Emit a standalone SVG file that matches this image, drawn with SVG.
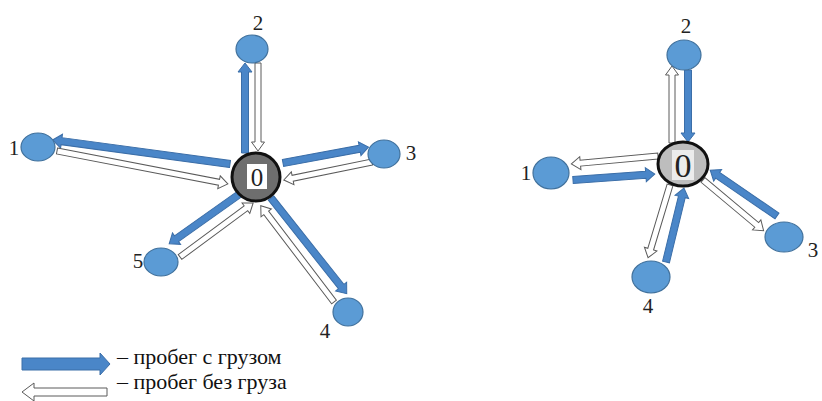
<svg xmlns="http://www.w3.org/2000/svg" width="822" height="401" viewBox="0 0 822 401">
<style>
.b{fill:#4a86c8;stroke:#3b6ea8;stroke-width:1}
.w{fill:#fff;stroke:#5a5a5a;stroke-width:1}
.n{fill:#5b9bd5;stroke:#41719c;stroke-width:1.2}
text{font-family:'Liberation Serif','DejaVu Serif',serif}
.lb{font-size:21px;fill:#222;text-anchor:middle}
.lg{font-size:22px;fill:#111}
</style>
<rect width="822" height="401" fill="#fff"/>
<g id="connectors">
<path class="b" transform="translate(230,164) rotate(-172.28)" d="M0,-3.5H170V-7L179,0L170,7V3.5H0Z"/>
<path class="w" transform="translate(57,151) rotate(10.92)" d="M0,-3H165V-6.5L174,0L165,6.5V3H0Z"/>
<path class="b" transform="translate(245,153) rotate(-90)" d="M0,-3.5H81V-7L90,0L81,7V3.5H0Z"/>
<path class="w" transform="translate(258,63) rotate(90)" d="M0,-3H79V-6.5L88,0L79,6.5V3H0Z"/>
<path class="b" transform="translate(283,163) rotate(-10.54)" d="M0,-3.5H78V-7L87,0L78,7V3.5H0Z"/>
<path class="w" transform="translate(372,162) rotate(168.44)" d="M0,-3H81V-6.5L90,0L81,6.5V3H0Z"/>
<path class="b" transform="translate(241,193) rotate(144.69)" d="M0,-3.5H79V-7L88,0L79,7V3.5H0Z"/>
<path class="w" transform="translate(180,257) rotate(-36.49)" d="M0,-3H82V-6.5L91,0L82,6.5V3H0Z"/>
<path class="b" transform="translate(271,198) rotate(51.63)" d="M0,-3.5H113V-7L122,0L113,7V3.5H0Z"/>
<path class="w" transform="translate(334,302) rotate(-127.25)" d="M0,-3H112V-6.5L121,0L112,6.5V3H0Z"/>
<path class="w" transform="translate(672,143) rotate(-90)" d="M0,-3H68V-6.5L77,0L68,6.5V3H0Z"/>
<path class="b" transform="translate(688,70) rotate(90)" d="M0,-3.5H63V-7L72,0L63,7V3.5H0Z"/>
<path class="w" transform="translate(658,156) rotate(174.75)" d="M0,-3H78V-6.5L87,0L78,6.5V3H0Z"/>
<path class="b" transform="translate(573,180) rotate(-4.18)" d="M0,-3.5H73V-7L82,0L73,7V3.5H0Z"/>
<path class="w" transform="translate(703,180) rotate(39.9)" d="M0,-3H70V-6.5L79,0L70,6.5V3H0Z"/>
<path class="b" transform="translate(777,216) rotate(-145.53)" d="M0,-3.5H72V-7L81,0L72,7V3.5H0Z"/>
<path class="w" transform="translate(670,185) rotate(106.77)" d="M0,-3H67V-6.5L76,0L67,6.5V3H0Z"/>
<path class="b" transform="translate(666,262) rotate(-76.33)" d="M0,-3.5H67V-7L76,0L67,7V3.5H0Z"/>
</g>
<g id="L0">
<circle cx="256" cy="177" r="24" fill="#6e6e6e" stroke="#111" stroke-width="3"/>
<rect x="247" y="164" width="20" height="25" fill="#fff"/>
<text x="257" y="186" class="lb" style="font-size:25px">0</text>
</g>
<g id="L1"><ellipse class="n" cx="38" cy="147" rx="17" ry="14"/><text class="lb" x="14" y="155">1</text></g>
<g id="L2"><ellipse class="n" cx="252" cy="49" rx="16" ry="14"/><text class="lb" x="258" y="30">2</text></g>
<g id="L3"><ellipse class="n" cx="384" cy="154" rx="16" ry="14"/><text class="lb" x="411" y="160">3</text></g>
<g id="L4"><ellipse class="n" cx="348" cy="312" rx="15" ry="14"/><text class="lb" x="325" y="338">4</text></g>
<g id="L5"><ellipse class="n" cx="161" cy="262" rx="17" ry="14"/><text class="lb" x="138" y="268">5</text></g>
<g id="R0">
<ellipse cx="683" cy="164" rx="25" ry="22" fill="#bdbdbd" stroke="#111" stroke-width="3"/>
<rect x="672" y="150" width="22" height="30" fill="#ececec"/>
<text x="683" y="177" class="lb" style="font-size:34px">0</text>
</g>
<g id="R1"><ellipse class="n" cx="551" cy="173" rx="18" ry="16"/><text class="lb" x="526" y="180">1</text></g>
<g id="R2"><ellipse class="n" cx="684" cy="55" rx="17" ry="15"/><text class="lb" x="686" y="33">2</text></g>
<g id="R3"><ellipse class="n" cx="784" cy="237" rx="19" ry="15"/><text class="lb" x="813" y="257">3</text></g>
<g id="R4"><ellipse class="n" cx="651" cy="277" rx="19" ry="16"/><text class="lb" x="648" y="313">4</text></g>
<g id="legend">
<path class="b" d="M22,358H100V353L110,364L100,375V370H22Z"/>
<path class="w" d="M107,388H34V383L22,392L34,401V396H107Z"/>
<text class="lg" x="117" y="364">– пробег с грузом</text>
<text class="lg" x="117" y="389">– пробег без груза</text>
</g>
</svg>
